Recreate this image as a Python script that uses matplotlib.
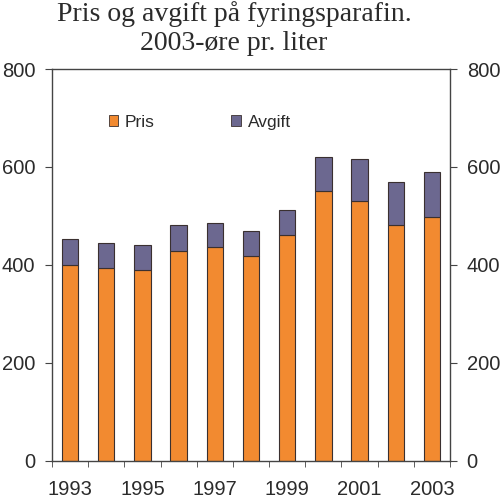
import numpy as np
import matplotlib
matplotlib.use('Agg')
import matplotlib.pyplot as plt
from matplotlib.patches import Patch

years = ['1993', '1994', '1995', '1996', '1997', '1998', '1999', '2000', '2001', '2002', '2003']
pris = [400, 393, 389, 429, 437, 417, 461, 550, 530, 482, 497]
avgift = [53, 52, 52, 53, 49, 53, 50, 70, 87, 88, 92]
yticks = [0, 200, 400, 600, 800]

c_pris = '#F28A30'
c_avg = '#6C6890'
edge = '#3a3030'
txt = '#2b2b2b'

plt.rcParams['font.family'] = 'Liberation Sans'

fig = plt.figure(figsize=(5.0, 4.98), dpi=100)
ax = fig.add_axes([0.104, 0.0753, 0.796, 0.7861])

x = np.arange(len(years))
ax.bar(x, pris, width=0.45, color=c_pris, edgecolor=edge, linewidth=0.8)
ax.bar(x, avgift, bottom=pris, width=0.45, color=c_avg, edgecolor=edge, linewidth=0.8)

ax.set_xlim(-0.5, len(years) - 0.5)
ax.set_ylim(0, 800)
ax.set_yticks(yticks)
ax.set_xticks(x[::2])
ax.set_xticklabels(years[::2])
ax.set_xticks(np.arange(len(years) + 1) - 0.5, minor=True)

ax.tick_params(axis='x', which='major', length=0, pad=14, labelsize=14.5, colors=txt)
ax.tick_params(axis='x', which='minor', length=4, direction='out', color='#444444')
ax.tick_params(axis='y', which='major', length=5, direction='out', pad=7, labelsize=14.5,
               left=True, right=True, labelleft=True, labelright=True, colors=txt, color='#444444')
for s in ax.spines.values():
    s.set_color('#444444')
    s.set_linewidth(1.0)

handles = [Patch(facecolor=c_pris, edgecolor=edge, linewidth=0.6, label='Pris'),
           Patch(facecolor=c_avg, edgecolor=edge, linewidth=0.6, label='Avgift')]
fig.legend(handles=handles, loc='center left', bbox_to_anchor=(0.186, 0.755), ncol=2,
           frameon=False, fontsize=12.5, handlelength=0.55, handleheight=0.55,
           handletextpad=0.4, columnspacing=4.4, labelcolor=txt)

fig.text(0.468, 0.998, 'Pris og avgift på fyringsparafin.\n2003-øre pr. liter',
         ha='center', va='top', fontsize=20, family='Liberation Serif',
         color=txt, linespacing=1.22)

fig.savefig('out.png', dpi=100)
